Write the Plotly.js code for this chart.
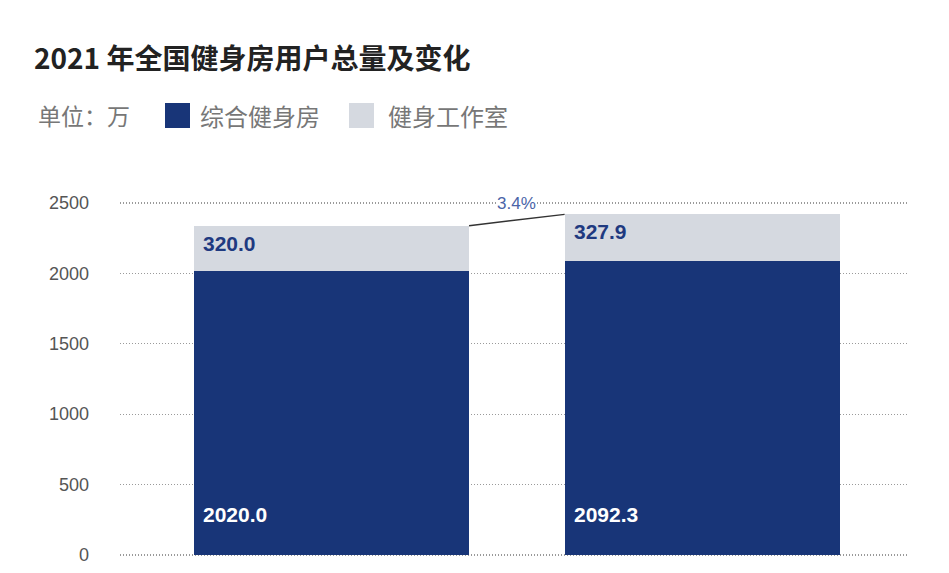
<!DOCTYPE html>
<html>
<head>
<meta charset="utf-8">
<script src="https://cdn.plot.ly/plotly-3.0.1.min.js"></script>
<style>
  body { margin: 0; background: #fff; }
  #chart { width: 949px; height: 573px; }
</style>
</head>
<body>
<div id="chart"></div>
<script>
// data
const years = ['2020', '2021'];
const gymUsers = [2020.0, 2092.3];      // 综合健身房
const studioUsers = [320.0, 327.9];     // 健身工作室
const seriesNames = ['综合健身房', '健身工作室'];
const seriesColors = ['#183578', '#d5d9e0'];
const yTicks = [0, 500, 1000, 1500, 2000, 2500];
const unitLabel = '单位：万';
const chartTitle = '2021 年全国健身房用户总量及变化';

const barWidth = 0.742;
const cjk = 'Noto Sans CJK SC, sans-serif';
const num = 'Liberation Sans, Arial, sans-serif';

// plot area in pixels: left 120, right 907, top 175, bottom 556
const px = x => (x - 120) / 787;
const py = y => (556 - y) / 381;

let totals = years.map((y, i) => gymUsers[i] + studioUsers[i]);
let growth = ((totals[1] / totals[0] - 1) * 100).toFixed(1) + '%';

let data = [
  {x: years, y: gymUsers, type: 'bar', name: seriesNames[0], width: barWidth,
   marker: {color: seriesColors[0]}, hoverinfo: 'none'},
  {x: years, y: studioUsers, type: 'bar', name: seriesNames[1], width: barWidth,
   marker: {color: seriesColors[1]}, hoverinfo: 'none'}
];

let annotations = [];
years.forEach((yr, i) => {
  // value of lower segment
  annotations.push({
    x: i - barWidth / 2, y: 0, xref: 'x', yref: 'y',
    xanchor: 'left', yanchor: 'bottom', xshift: 7, yshift: 27,
    text: gymUsers[i].toFixed(1), showarrow: false,
    font: {family: num, size: 21, color: '#ffffff', weight: 'bold'}
  });
  // value of upper segment
  annotations.push({
    x: i - barWidth / 2, y: totals[i], xref: 'x', yref: 'y',
    xanchor: 'left', yanchor: 'top', xshift: 7, yshift: -4,
    text: studioUsers[i].toFixed(1), showarrow: false,
    font: {family: num, size: 21, color: '#1f3a80', weight: 'bold'}
  });
});

// growth label
annotations.push({
  x: 0.5, y: (totals[0] + totals[1]) / 2, xref: 'x', yref: 'y',
  yshift: 17, text: growth, showarrow: false, bgcolor: '#ffffff', borderpad: 0,
  font: {family: num, size: 17, color: '#4a64a8'}
});

// legend made by hand
annotations.push({
  x: px(36), y: py(115), xref: 'paper', yref: 'paper', xanchor: 'left', yanchor: 'middle',
  text: unitLabel, showarrow: false, font: {family: cjk, size: 23, color: '#777'}
});
annotations.push({
  x: px(198), y: py(115), xref: 'paper', yref: 'paper', xanchor: 'left', yanchor: 'middle',
  text: seriesNames[0], showarrow: false, font: {family: cjk, size: 24, color: '#777'}
});
annotations.push({
  x: px(386), y: py(115), xref: 'paper', yref: 'paper', xanchor: 'left', yanchor: 'middle',
  text: seriesNames[1], showarrow: false, font: {family: cjk, size: 24, color: '#777'}
});

let shapes = [
  {type: 'rect', xref: 'paper', yref: 'paper', x0: px(165), x1: px(190), y0: py(128), y1: py(103),
   fillcolor: seriesColors[0], line: {width: 0}},
  {type: 'rect', xref: 'paper', yref: 'paper', x0: px(349), x1: px(374), y0: py(128), y1: py(103),
   fillcolor: seriesColors[1], line: {width: 0}},
  // connector between bar tops
  {type: 'line', xref: 'x', yref: 'y', x0: barWidth / 2, y0: totals[0], x1: 1 - barWidth / 2, y1: totals[1],
   line: {color: '#333', width: 1.5}}
];

let layout = {
  width: 949, height: 573,
  margin: {l: 120, r: 42, t: 175, b: 17},
  paper_bgcolor: '#fff', plot_bgcolor: '#fff',
  barmode: 'stack',
  showlegend: false,
  title: {
    text: chartTitle, xref: 'container', yref: 'container',
    x: 34 / 949, xanchor: 'left', y: 1 - 59 / 573, yanchor: 'middle',
    font: {family: cjk, size: 28, color: '#222', weight: 'bold'}
  },
  xaxis: {type: 'category', range: [-0.571, 1.553], showticklabels: false,
          showgrid: false, zeroline: false, showline: false, fixedrange: true},
  yaxis: {range: [-8, 2700], tickvals: yTicks, showgrid: true, gridcolor: '#9a9a9a',
          griddash: '1.2px,1.8px', gridwidth: 1.3, zeroline: false, showline: false,
          ticks: '', ticklabelstandoff: 30,
          tickfont: {family: num, size: 18, color: '#555'}},
  annotations: annotations,
  shapes: shapes
};

Plotly.newPlot('chart', data, layout, {displayModeBar: false, staticPlot: true});
</script>
</body>
</html>
